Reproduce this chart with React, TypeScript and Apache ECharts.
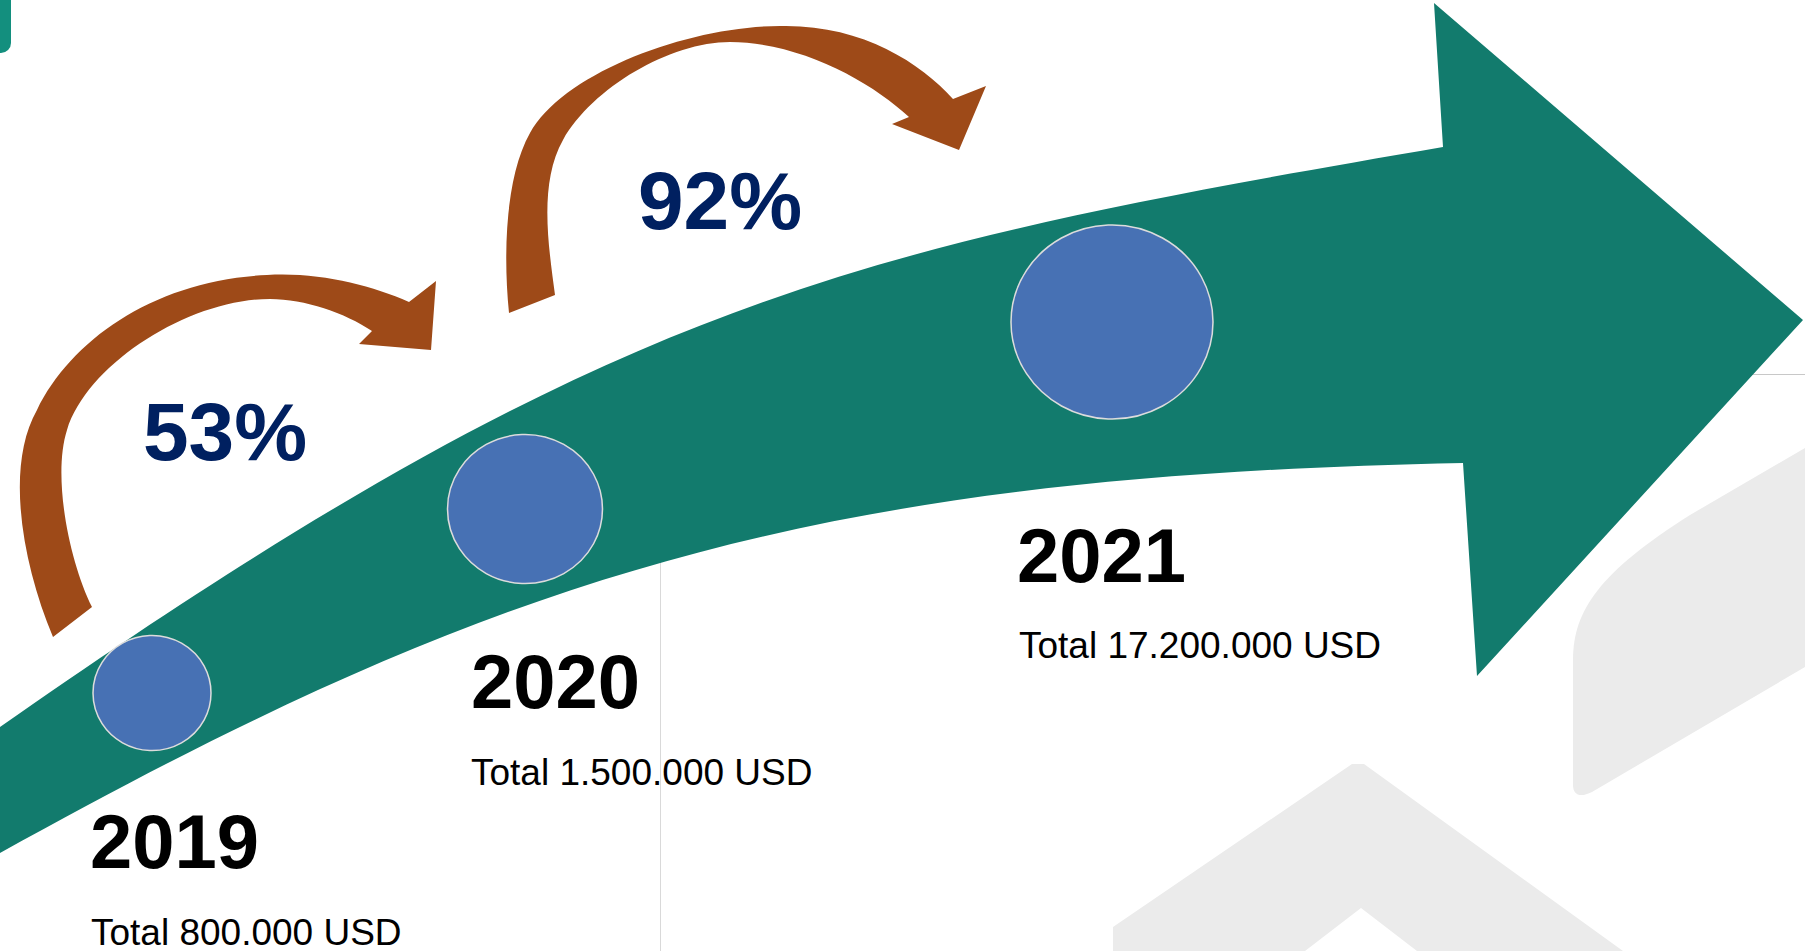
import React, { useEffect, useRef } from "react";
import * as echarts from "echarts";

// ---- data ----
const years: string[] = ["2019", "2020", "2021"];
const totalsUSD: number[] = [800000, 1500000, 17200000];
const growthLabels: string[] = ["53%", "92%"];

// ---- layout (pixel space of the 1805x951 canvas) ----
const W = 1805;
const H = 951;
const circleCenters: number[][] = [
  [152, 693],
  [525, 509],
  [1112, 322],
];
const circleSizes: number[][] = [
  [118, 115],
  [155, 149],
  [202, 194],
];
const yearPos: number[][] = [
  [90, 841],
  [471, 681],
  [1017, 555],
];
const totalPos: number[][] = [
  [91, 932],
  [471, 772],
  [1019, 645],
];
const growthPos: number[][] = [
  [143, 431],
  [638, 200],
];

const FONT = '"Liberation Sans", Arial, sans-serif';

// ---- decorative shape outlines (SVG path data) ----
const GREEN_D =
  "M-6,731 L0,727 C610,300 848,249 1443,147 L1434,3 L1803,320 L1477,676 L1463,463 C813,476 500,575 0,853 L-6,856 Z";

const BROWN1_D =
  "M53,637 C22,563 5,466 37,410 C72,338 157,280 267,275 C320,272 370,285 409,302" +
  " L436,281 L431,350 L359,344 L372,331" +
  " C345,313 305,299 270,299 C190,299 88,363 67,430 C52,477 69.5,562 92,607 Z";

const BROWN2_D =
  "M509,313 C503,253 505.5,176.5 530,133 C564,72 690,26 780,26 C860,24 920,62 953,99" +
  " L986,86 L959,150 L892,124 L909,117" +
  " C872,82 800,42 730,42 C670,42 592.4,87.8 563,140 C538.5,183.5 548.5,245.5 555,295 Z";

const LEAF_D =
  "M1573,785 L1573,660 C1573,610 1600,572 1690,515 L1805,448 L1805,667 L1592,792 C1580,798 1573,795 1573,785 Z";

echarts.graphic.registerShape("greenArrow", echarts.graphic.extendPath(GREEN_D, {}));
echarts.graphic.registerShape("brownArrow1", echarts.graphic.extendPath(BROWN1_D, {}));
echarts.graphic.registerShape("brownArrow2", echarts.graphic.extendPath(BROWN2_D, {}));
echarts.graphic.registerShape("leafShape", echarts.graphic.extendPath(LEAF_D, {}));

function fmt(n: number): string {
  return String(n).replace(/\B(?=(\d{3})+(?!\d))/g, ".");
}

export default function App() {
  const ref = useRef<HTMLDivElement>(null);

  useEffect(() => {
    document.body.style.margin = "0";
    if (!ref.current) return;
    const chart = echarts.init(ref.current, undefined, { renderer: "svg" });

    const graphics: any[] = [
      // light grey watermark shapes
      {
        type: "polygon",
        shape: {
          points: [
            [1113, 951],
            [1113, 927],
            [1352, 764],
            [1364, 764],
            [1623, 951],
            [1417, 951],
            [1361, 908],
            [1305, 951],
          ],
        },
        style: { fill: "#EBEBEB" },
      },
      { type: "leafShape", x: 0, y: 0, style: { fill: "#EBEBEB" } },
      // thin grey guide lines
      {
        type: "line",
        shape: { x1: 660.5, y1: 540, x2: 660.5, y2: H },
        style: { stroke: "#D9D9D9", lineWidth: 1 },
      },
      {
        type: "line",
        shape: { x1: 1751, y1: 374.5, x2: W, y2: 374.5 },
        style: { stroke: "#C8C8C8", lineWidth: 1 },
      },
      // top-left teal tab
      {
        type: "rect",
        shape: { x: -12, y: -12, width: 23, height: 65, r: 10 },
        style: { fill: "#138F7E" },
      },
      // main green arrow
      { type: "greenArrow", x: 0, y: 0, style: { fill: "#127B6D" } },
      // brown growth arrows
      { type: "brownArrow1", x: 0, y: 0, style: { fill: "#9E4A18" } },
      { type: "brownArrow2", x: 0, y: 0, style: { fill: "#9E4A18" } },
    ];

    growthLabels.forEach((g, i) => {
      graphics.push({
        type: "text",
        x: growthPos[i][0],
        y: growthPos[i][1],
        style: {
          text: g,
          fill: "#002060",
          fontSize: 82,
          fontWeight: "bold",
          fontFamily: FONT,
          align: "left",
          verticalAlign: "middle",
        },
      });
    });

    years.forEach((y, i) => {
      graphics.push({
        type: "text",
        x: yearPos[i][0],
        y: yearPos[i][1],
        style: {
          text: y,
          fill: "#000000",
          fontSize: 76,
          fontWeight: "bold",
          fontFamily: FONT,
          align: "left",
          verticalAlign: "middle",
        },
      });
      graphics.push({
        type: "text",
        x: totalPos[i][0],
        y: totalPos[i][1],
        style: {
          text: "Total " + fmt(totalsUSD[i]) + " USD",
          fill: "#000000",
          fontSize: 37,
          fontWeight: "normal",
          fontFamily: FONT,
          align: "left",
          verticalAlign: "middle",
        },
      });
    });

    chart.setOption({
      animation: false,
      backgroundColor: "#FFFFFF",
      grid: { left: 0, right: 0, top: 0, bottom: 0 },
      xAxis: { type: "value", min: 0, max: W, show: false },
      yAxis: { type: "value", min: 0, max: H, inverse: true, show: false },
      graphic: { elements: graphics },
      series: [
        {
          type: "scatter",
          z: 5,
          symbol: "circle",
          data: years.map((y, i) => ({
            name: y,
            value: circleCenters[i],
            symbolSize: circleSizes[i],
          })),
          itemStyle: {
            color: "#4771B4",
            borderColor: "#DCDCDC",
            borderWidth: 1.5,
            opacity: 1,
          },
          emphasis: { disabled: true },
          silent: true,
        },
      ],
    });

    return () => {
      chart.dispose();
    };
  }, []);

  return (
    <div
      ref={ref}
      style={{ position: "fixed", left: 0, top: 0, width: W, height: H, background: "#fff" }}
    />
  );
}
